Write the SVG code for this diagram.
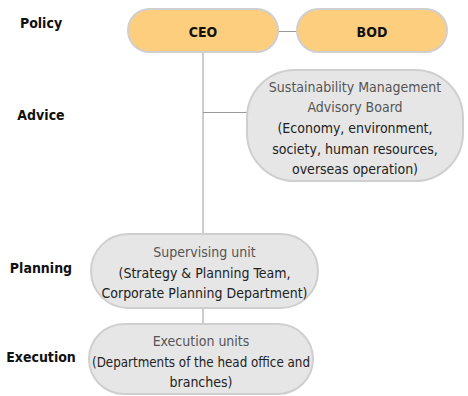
<svg xmlns="http://www.w3.org/2000/svg" width="468" height="396" viewBox="0 0 468 396">
<style>
text{font-family:"Liberation Sans Narrow","DejaVu Sans Condensed","Liberation Sans",sans-serif;text-anchor:middle}
.lbl{font-size:14px;font-weight:bold;fill:#111}
.top{fill:#FDCE7D;stroke:#CFCFCF;stroke-width:2}
.box{fill:#E6E6E6;stroke:#CFCFCF;stroke-width:2}
.tt{font-size:14px;font-weight:bold;fill:#111}
.t1{font-size:14px;fill:#555}
.t2{font-size:14px;fill:#222}
.con{stroke:#999;stroke-width:1;fill:none}
</style>
<g id="labels">
<text class="lbl" x="41" y="28">Policy</text>
<text class="lbl" x="41" y="120">Advice</text>
<text class="lbl" x="41" y="273">Planning</text>
<text class="lbl" x="41" y="362">Execution</text>
</g>
<g id="connectors">
<line class="con" x1="203" y1="52" x2="203" y2="234"/>
<line class="con" x1="278" y1="31.5" x2="297" y2="31.5"/>
<line class="con" x1="203" y1="112.5" x2="247" y2="112.5"/>
<line class="con" x1="203" y1="308" x2="203" y2="324"/>
</g>
<g id="ceo">
<rect class="top" x="128" y="9" width="150" height="43" rx="21.5"/>
<text class="tt" x="203" y="37">CEO</text>
</g>
<g id="bod">
<rect class="top" x="297" y="9" width="150" height="43" rx="21.5"/>
<text class="tt" x="372" y="37">BOD</text>
</g>
<g id="advisory">
<rect class="box" x="247" y="70" width="216" height="111" rx="48"/>
<text class="t1" x="355" y="92">Sustainability Management</text>
<text class="t1" x="355" y="112">Advisory Board</text>
<text class="t2" x="355" y="133">(Economy, environment,</text>
<text class="t2" x="355" y="154">society, human resources,</text>
<text class="t2" x="355" y="174">overseas operation)</text>
</g>
<g id="supervising">
<rect class="box" x="91" y="234" width="227" height="74" rx="37"/>
<text class="t1" x="204.5" y="257">Supervising unit</text>
<text class="t2" x="204.5" y="278">(Strategy &amp; Planning Team,</text>
<text class="t2" x="204.5" y="298" textLength="206" lengthAdjust="spacingAndGlyphs">Corporate Planning Department)</text>
</g>
<g id="execution">
<rect class="box" x="89" y="324" width="224" height="70" rx="35"/>
<text class="t1" x="201" y="346">Execution units</text>
<text class="t2" x="201" y="367" textLength="218" lengthAdjust="spacingAndGlyphs">(Departments of the head office and</text>
<text class="t2" x="201" y="387">branches)</text>
</g>
</svg>
